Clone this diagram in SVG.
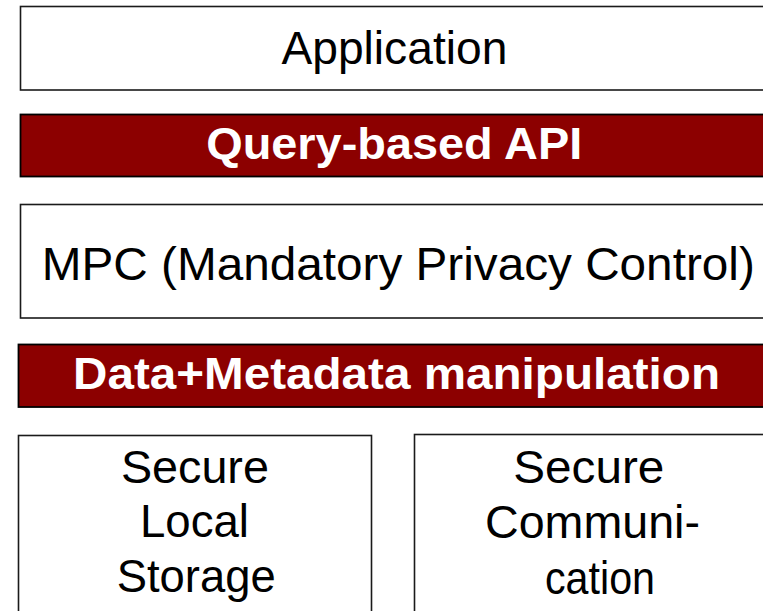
<svg xmlns="http://www.w3.org/2000/svg" width="763" height="611" viewBox="0 0 763 611">
  <style>
    .box { fill: #ffffff; stroke: #1a1a1a; stroke-width: 1.6; }
    .bar { fill: #8c0000; stroke: #000000; stroke-width: 1.8; }
    .lbl { font-family: "Liberation Sans", Arial, Helvetica, sans-serif; fill: #000000; text-anchor: middle; }
    .bar-lbl { font-family: "Liberation Sans", Arial, Helvetica, sans-serif; font-weight: bold; fill: #ffffff; text-anchor: middle; }
  </style>
  <rect width="763" height="611" fill="#ffffff"/>

  <g id="application">
    <rect class="box" x="20.5" y="6.5" width="750" height="83.5"/>
    <text class="lbl" x="394.4" y="64" font-size="46" textLength="226" lengthAdjust="spacingAndGlyphs">Application</text>
  </g>

  <g id="query-api">
    <rect class="bar" x="20.5" y="114.5" width="750" height="62"/>
    <text class="bar-lbl" x="394.2" y="159" font-size="44" textLength="376" lengthAdjust="spacingAndGlyphs">Query-based API</text>
  </g>

  <g id="mpc">
    <rect class="box" x="20.5" y="204.5" width="750" height="113.5"/>
    <text class="lbl" x="398.3" y="279.5" font-size="46" textLength="713" lengthAdjust="spacingAndGlyphs">MPC (Mandatory Privacy Control)</text>
  </g>

  <g id="data-metadata">
    <rect class="bar" x="18.5" y="344.5" width="752" height="62.5"/>
    <text class="bar-lbl" x="396.5" y="389" font-size="44" textLength="647" lengthAdjust="spacingAndGlyphs">Data+Metadata manipulation</text>
  </g>

  <g id="secure-local-storage">
    <rect class="box" x="18.5" y="435.5" width="353" height="190"/>
    <text class="lbl" x="194.9" y="483" font-size="46" textLength="148" lengthAdjust="spacingAndGlyphs">Secure</text>
    <text class="lbl" x="194.5" y="536.5" font-size="46" textLength="109" lengthAdjust="spacingAndGlyphs">Local</text>
    <text class="lbl" x="196.2" y="591.5" font-size="46" textLength="159" lengthAdjust="spacingAndGlyphs">Storage</text>
  </g>

  <g id="secure-communication">
    <rect class="box" x="414.5" y="434.5" width="360" height="190"/>
    <text class="lbl" x="588.8" y="482.5" font-size="46" textLength="151" lengthAdjust="spacingAndGlyphs">Secure</text>
    <text class="lbl" x="592.5" y="538" font-size="46" textLength="215" lengthAdjust="spacingAndGlyphs">Communi-</text>
    <text class="lbl" x="600" y="593.5" font-size="46" textLength="110" lengthAdjust="spacingAndGlyphs">cation</text>
  </g>

  <g id="connectors"></g>
</svg>
